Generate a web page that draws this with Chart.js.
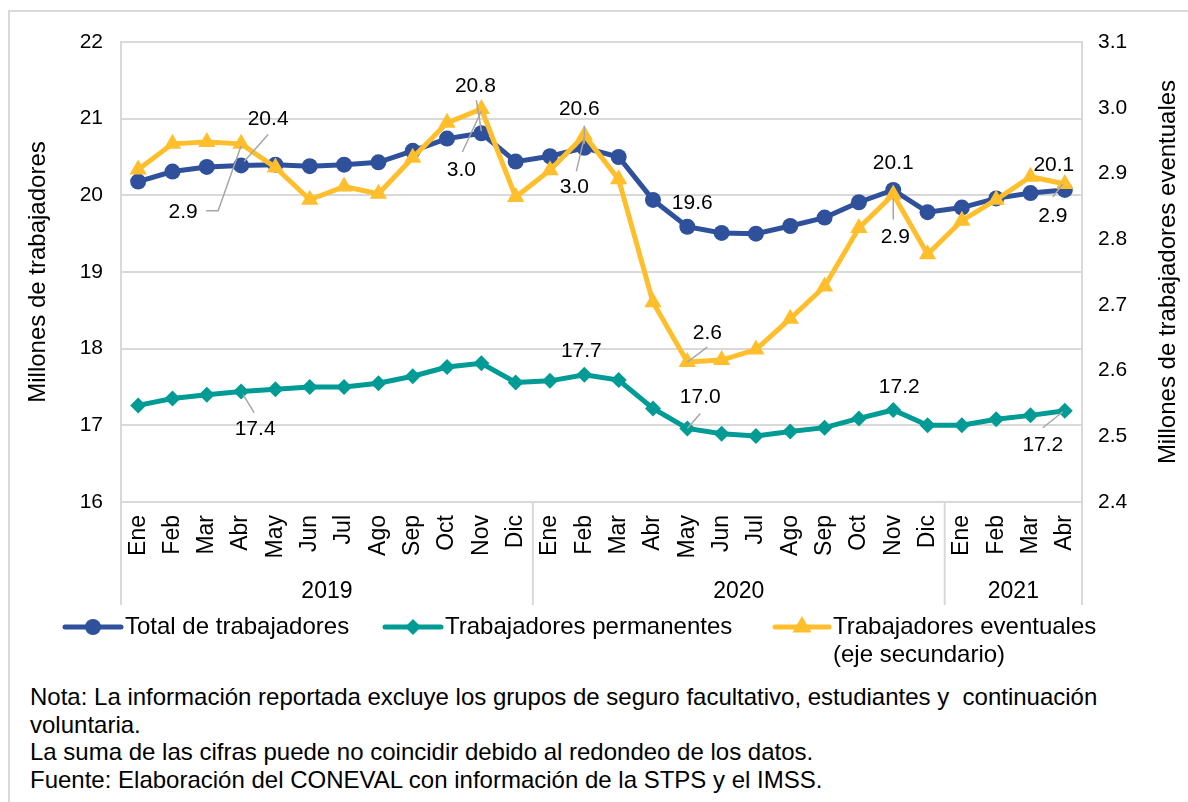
<!DOCTYPE html>
<html lang="es">
<head>
<meta charset="UTF-8">
<title>Trabajadores asegurados</title>
<script src="https://cdn.jsdelivr.net/npm/chart.js"></script>
<style>
  body { margin: 0; background: #fff; font-family: "Liberation Sans", Arial, sans-serif; }
  .marco {
    position: absolute; left: 8px; top: 10px; width: 1200px; height: 810px;
    border-left: 2px solid #d9d9d9; border-top: 2px solid #d9d9d9;
  }
  #grafica { position: absolute; left: 0; top: 0; }
  .nota {
    position: absolute; left: 30px; top: 683px;
    font-size: 24px; line-height: 27.5px; color: #000; white-space: pre;
  }
</style>
</head>
<body>
<div class="marco"></div>
<canvas id="grafica" width="1188" height="680"></canvas>
<div class="nota">Nota: La información reportada excluye los grupos de seguro facultativo, estudiantes y  continuación
voluntaria.
La suma de las cifras puede no coincidir debido al redondeo de los datos.
Fuente: Elaboración del CONEVAL con información de la STPS y el IMSS.</div>

<script>
// Meses (ene 2019 - abr 2021)
const meses = ['Ene','Feb','Mar','Abr','May','Jun','Jul','Ago','Sep','Oct','Nov','Dic',
               'Ene','Feb','Mar','Abr','May','Jun','Jul','Ago','Sep','Oct','Nov','Dic',
               'Ene','Feb','Mar','Abr'];
const anios = ['2019', '2020', '2021'];
const mesesPorAnio = [12, 12, 4];

// Millones de trabajadores
const total = [20.18, 20.31, 20.37, 20.39, 20.40, 20.38, 20.40, 20.43, 20.58, 20.74, 20.81, 20.44,
               20.51, 20.62, 20.50, 19.94, 19.59, 19.51, 19.50, 19.60, 19.71, 19.91, 20.07, 19.78,
               19.84, 19.96, 20.03, 20.07];
const permanentes = [17.26, 17.35, 17.40, 17.44, 17.47, 17.50, 17.50, 17.55, 17.64, 17.76, 17.81, 17.56,
                     17.58, 17.66, 17.59, 17.22, 16.96, 16.89, 16.86, 16.92, 16.97, 17.09, 17.20, 17.00,
                     17.00, 17.08, 17.13, 17.19];
// eje secundario
const eventuales = [2.906, 2.945, 2.948, 2.945, 2.909, 2.860, 2.880, 2.869, 2.924, 2.977, 2.998, 2.864,
                    2.905, 2.958, 2.891, 2.704, 2.613, 2.616, 2.632, 2.679, 2.728, 2.817, 2.868, 2.777,
                    2.828, 2.860, 2.895, 2.884];

const nombres = ['Total de trabajadores', 'Trabajadores permanentes', 'Trabajadores eventuales'];
const colores = ['#2f519b', '#009b94', '#ffbe2c'];

const fuente = '"Liberation Sans", Arial, sans-serif';
const gris = '#d9d9d9';

// etiquetas de datos: serie, indice, desplazamiento del texto y linea guia
const etiquetas = [
  { ds: 0, i: 3,  dx: 27,  dy: -46, guia: [[3, -4], [27, -31]] },
  { ds: 0, i: 10, dx: -6,  dy: -47, guia: [[0, -2], [-5, -33]] },
  { ds: 0, i: 13, dx: -5,  dy: -39, guia: [[0, -4], [0, -22]] },
  { ds: 0, i: 16, dx: 5,   dy: -24 },
  { ds: 0, i: 22, dx: 0,   dy: -27 },
  { ds: 0, i: 27, dx: -11, dy: -25 },
  { ds: 1, i: 3,  dx: 14,  dy: 38,  guia: [[2, 3], [13, 21]] },
  { ds: 1, i: 13, dx: -3,  dy: -24 },
  { ds: 1, i: 16, dx: 13,  dy: -31, guia: [[0, 0], [13, -15]] },
  { ds: 1, i: 22, dx: 6,   dy: -23 },
  { ds: 1, i: 27, dx: -22, dy: 34,  guia: [[-2, 1], [-22, 17]] },
  { ds: 2, i: 3,  dx: -58, dy: 68,  guia: [[0, 2], [-23, 67], [-35, 67]] },
  { ds: 2, i: 10, dx: -20, dy: 61,  guia: [[0, 2], [-19, 43]] },
  { ds: 2, i: 13, dx: -10, dy: 52,  guia: [[0, 2], [-8, 36]] },
  { ds: 2, i: 16, dx: 20,  dy: -29, guia: [[0, 0], [20, -15]] },
  { ds: 2, i: 22, dx: 2,   dy: 43,  guia: [[0, 4], [0, 25]] },
  { ds: 2, i: 27, dx: -12, dy: 32,  guia: [[-2, 0], [-12, 13]] }
];

function marcador(ctx, estilo, r, x, y, color) {
  ctx.save();
  ctx.fillStyle = color;
  ctx.beginPath();
  if (estilo === 'circle') {
    ctx.arc(x, y, r, 0, Math.PI * 2);
  } else if (estilo === 'rectRot') {
    ctx.moveTo(x, y - r); ctx.lineTo(x + r, y); ctx.lineTo(x, y + r); ctx.lineTo(x - r, y);
  } else {
    ctx.moveTo(x, y - r); ctx.lineTo(x + r * 0.87, y + r * 0.5); ctx.lineTo(x - r * 0.87, y + r * 0.5);
  }
  ctx.closePath();
  ctx.fill();
  ctx.restore();
}

const decoracion = {
  id: 'decoracion',
  beforeDatasetsDraw(chart) {
    const { ctx, chartArea: a } = chart;
    ctx.save();
    ctx.strokeStyle = gris;
    ctx.lineWidth = 2;
    ctx.strokeRect(a.left, a.top, a.right - a.left, a.bottom - a.top);
    ctx.restore();
  },
  afterDatasetsDraw(chart) {
    const ctx = chart.ctx;
    ctx.save();
    ctx.font = '21px ' + fuente;
    ctx.textAlign = 'center';
    ctx.textBaseline = 'middle';
    etiquetas.forEach(e => {
      const p = chart.getDatasetMeta(e.ds).data[e.i];
      const v = chart.data.datasets[e.ds].data[e.i];
      if (e.guia) {
        ctx.strokeStyle = '#a6a6a6';
        ctx.lineWidth = 1.5;
        ctx.beginPath();
        e.guia.forEach((g, k) => k ? ctx.lineTo(p.x + g[0], p.y + g[1]) : ctx.moveTo(p.x + g[0], p.y + g[1]));
        ctx.stroke();
      }
      ctx.fillStyle = '#000';
      ctx.fillText(v.toFixed(1), p.x + e.dx, p.y + e.dy);
    });
    ctx.restore();
  },
  afterDraw(chart) {
    const { ctx, chartArea: a } = chart;
    const paso = (a.right - a.left) / meses.length;
    ctx.save();
    // separadores de años
    ctx.strokeStyle = gris;
    ctx.lineWidth = 2;
    let inicio = 0;
    const bordes = [0];
    mesesPorAnio.forEach(n => { inicio += n; bordes.push(inicio); });
    bordes.forEach(b => {
      const px = a.left + b * paso;
      ctx.beginPath(); ctx.moveTo(px, a.bottom); ctx.lineTo(px, 605); ctx.stroke();
    });
    ctx.fillStyle = '#000';
    ctx.font = '23px ' + fuente;
    ctx.textAlign = 'center';
    ctx.textBaseline = 'middle';
    anios.forEach((t, k) => {
      const cx = a.left + (bordes[k] + bordes[k + 1]) / 2 * paso;
      ctx.fillText(t, cx, 592);
    });
    // titulos de ejes
    ctx.font = '24px ' + fuente;
    const cy = (a.top + a.bottom) / 2;
    [['Millones de trabajadores', 38], ['Millones de trabajadores eventuales', 1168]].forEach(([t, tx]) => {
      ctx.save();
      ctx.translate(tx, cy);
      ctx.rotate(-Math.PI / 2);
      ctx.fillText(t, 0, 0);
      ctx.restore();
    });
    // leyenda
    const items = [
      { x1: 65, x2: 121, estilo: 'circle', r: 8 },
      { x1: 385, x2: 441, estilo: 'rectRot', r: 8 },
      { x1: 775, x2: 829, estilo: 'triangle', r: 11 }
    ];
    const ly = 627;
    ctx.textAlign = 'left';
    items.forEach((it, k) => {
      ctx.strokeStyle = colores[k];
      ctx.lineWidth = 5;
      ctx.lineCap = 'round';
      ctx.beginPath(); ctx.moveTo(it.x1, ly); ctx.lineTo(it.x2, ly); ctx.stroke();
      marcador(ctx, it.estilo, it.r, (it.x1 + it.x2) / 2, ly, colores[k]);
      ctx.fillStyle = '#000';
      ctx.fillText(nombres[k], it.x2 + 4, ly);
    });
    ctx.fillText('(eje secundario)', items[2].x2 + 4, ly + 28);
    ctx.restore();
  }
};

new Chart(document.getElementById('grafica'), {
  type: 'line',
  data: {
    labels: meses,
    datasets: [
      {
        label: nombres[0], data: total, yAxisID: 'y', order: 1,
        borderColor: colores[0], backgroundColor: colores[0], borderWidth: 5,
        pointStyle: 'circle', pointRadius: 8, pointBorderWidth: 0, pointBackgroundColor: colores[0]
      },
      {
        label: nombres[1], data: permanentes, yAxisID: 'y', order: 2,
        borderColor: colores[1], backgroundColor: colores[1], borderWidth: 5,
        pointStyle: 'rectRot', pointRadius: 8, pointBorderWidth: 0, pointBackgroundColor: colores[1]
      },
      {
        label: nombres[2] + ' (eje secundario)', data: eventuales, yAxisID: 'y1', order: 0,
        borderColor: colores[2], backgroundColor: colores[2], borderWidth: 5,
        pointStyle: 'triangle', pointRadius: 10, pointBorderWidth: 0, pointBackgroundColor: colores[2]
      }
    ]
  },
  options: {
    responsive: false,
    animation: false,
    layout: { padding: { top: 42, left: 0, right: 0, bottom: 0 } },
    plugins: { legend: { display: false }, tooltip: { enabled: false } },
    elements: { line: { tension: 0 } },
    scales: {
      x: {
        offset: true,
        grid: { display: false, drawTicks: false, offset: true },
        border: { display: false },
        ticks: {
          autoSkip: false, minRotation: 90, maxRotation: 90, padding: 13,
          color: '#000', font: { family: fuente, size: 23 }
        },
        afterFit(s) { s.height = 680 - 502; }
      },
      y: {
        position: 'left', min: 16, max: 22,
        grid: { color: gris, lineWidth: 2, drawTicks: false },
        border: { display: false },
        ticks: { stepSize: 1, padding: 18, color: '#000', font: { family: fuente, size: 21 } },
        afterFit(s) { s.width = 121; }
      },
      y1: {
        position: 'right', min: 2.4, max: 3.1,
        grid: { display: false, drawTicks: false },
        border: { display: false },
        ticks: {
          stepSize: 0.1, padding: 16, color: '#000', font: { family: fuente, size: 21 },
          callback: v => v.toFixed(1)
        },
        afterFit(s) { s.width = 1188 - 1082; }
      }
    }
  },
  plugins: [decoracion]
});
</script>
</body>
</html>
